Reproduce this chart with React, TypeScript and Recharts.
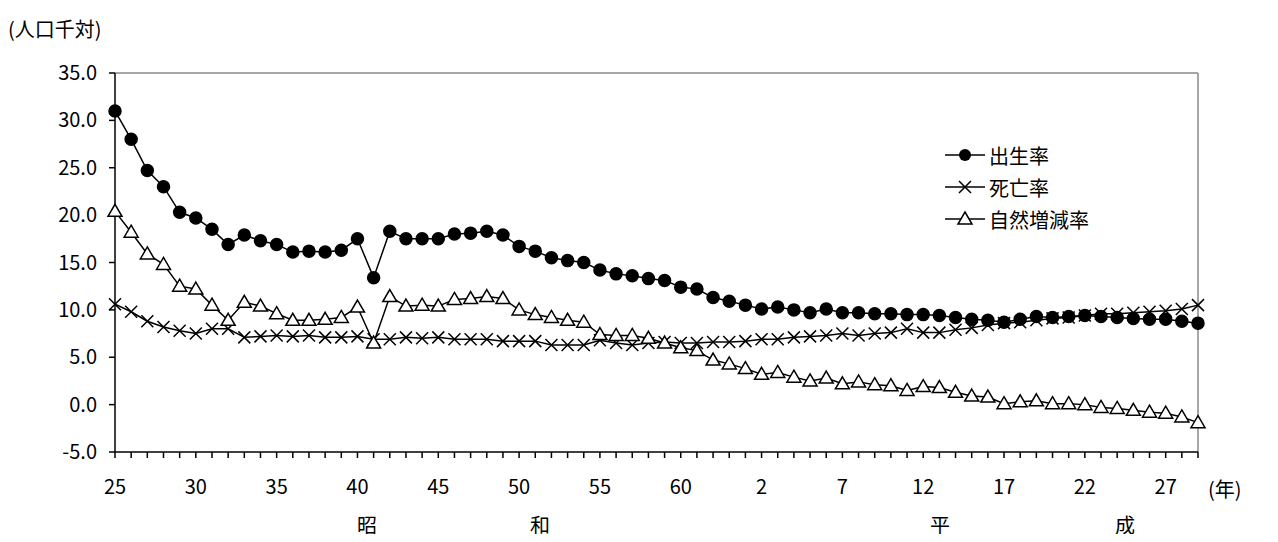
import { LineChart, Line, XAxis, YAxis, ReferenceLine } from "recharts";

const showaYears = Array.from({ length: 39 }, (_, i) => `S${25 + i}`);
const heiseiYears = Array.from({ length: 29 }, (_, i) => `H${1 + i}`);
const years = [...showaYears, ...heiseiYears];

const birthRate = [
  31.0, 28.0, 24.7, 23.0, 20.3, 19.7, 18.5, 16.9, 17.9, 17.3, 16.9, 16.1, 16.2, 16.1, 16.3, 17.5, 13.4, 18.3, 17.5, 17.5,
  17.5, 18.0, 18.1, 18.3, 17.9, 16.7, 16.2, 15.5, 15.2, 15.0, 14.2, 13.8, 13.6, 13.3, 13.1, 12.4, 12.2, 11.3, 10.9,
  10.5, 10.1, 10.3, 10.0, 9.7, 10.1, 9.7, 9.7, 9.6, 9.6, 9.5, 9.5, 9.4, 9.2, 9.0, 8.9, 8.7, 9.0, 9.3, 9.2, 9.3, 9.4,
  9.3, 9.2, 9.1, 9.0, 9.0, 8.8, 8.6,
];
const deathRate = [
  10.6, 9.8, 8.8, 8.2, 7.8, 7.5, 8.0, 8.0, 7.1, 7.2, 7.3, 7.2, 7.3, 7.1, 7.1, 7.2, 6.9, 6.9, 7.1, 7.0, 7.1, 6.9, 6.9,
  6.9, 6.7, 6.7, 6.7, 6.3, 6.3, 6.3, 6.8, 6.5, 6.3, 6.5, 6.6, 6.5, 6.5, 6.6, 6.6, 6.7, 6.9, 6.9, 7.1, 7.2, 7.3, 7.5,
  7.3, 7.5, 7.6, 8.0, 7.6, 7.6, 7.9, 8.1, 8.4, 8.6, 8.7, 8.9, 9.1, 9.2, 9.4, 9.6, 9.6, 9.7, 9.8, 9.9, 10.1, 10.5,
];
const naturalRate = [
  20.4, 18.2, 15.9, 14.8, 12.5, 12.2, 10.5, 8.9, 10.8, 10.4, 9.6, 8.9, 8.9, 9.0, 9.2, 10.3, 6.5, 11.4, 10.4, 10.5,
  10.4, 11.1, 11.2, 11.4, 11.2, 10.0, 9.5, 9.2, 8.9, 8.7, 7.4, 7.3, 7.3, 7.0, 6.5, 6.0, 5.7, 4.7, 4.3, 3.8, 3.2, 3.4,
  2.9, 2.5, 2.8, 2.2, 2.4, 2.1, 2.0, 1.5, 1.9, 1.8, 1.3, 0.9, 0.8, 0.1, 0.3, 0.4, 0.1, 0.1, 0.0, -0.3, -0.4, -0.6,
  -0.8, -0.9, -1.3, -1.9,
];
const yTicks = [-5, 0, 5, 10, 15, 20, 25, 30, 35];

const data = years.map((y, i) => ({ year: y, birth: birthRate[i], death: deathRate[i], natural: naturalRate[i] }));

const font = "'Noto Sans CJK JP', sans-serif";

function xLabel(v: string) {
  const n = Number(v.slice(1));
  if (v[0] === "S") return n % 5 === 0 ? String(n) : "";
  return n % 5 === 2 ? String(n) : "";
}

const Cross = (p: any) => {
  const { cx, cy } = p;
  if (cx == null) return null;
  const s = 6;
  return (
    <path d={`M${cx - s},${cy - s}L${cx + s},${cy + s}M${cx - s},${cy + s}L${cx + s},${cy - s}`} stroke="#000" strokeWidth={1.5} />
  );
};
const Tri = (p: any) => {
  const { cx, cy } = p;
  if (cx == null) return null;
  return <path d={`M${cx},${cy - 7}L${cx + 7},${cy + 5}L${cx - 7},${cy + 5}Z`} fill="#fff" stroke="#000" strokeWidth={1.5} />;
};

function LegendBox() {
  const items = [
    { name: "出生率", m: <circle cx={20} cy={10} r={6} fill="#000" /> },
    { name: "死亡率", m: <path d="M14,4L26,16M14,16L26,4" stroke="#000" strokeWidth={1.5} /> },
    { name: "自然増減率", m: <path d="M20,3L27,15L13,15Z" fill="#fff" stroke="#000" strokeWidth={1.5} /> },
  ];
  return (
    <div style={{ position: "absolute", left: 945, top: 139, fontFamily: font, fontSize: 20 }}>
      {items.map((it) => (
        <div key={it.name} style={{ display: "flex", alignItems: "center", height: 32 }}>
          <svg width={42} height={20}>
            <line x1={0} y1={10} x2={40} y2={10} stroke="#000" strokeWidth={1.5} />
            {it.m}
          </svg>
          <span style={{ marginLeft: 2 }}>{it.name}</span>
        </div>
      ))}
    </div>
  );
}

export default function App() {
  return (
    <div style={{ position: "relative", margin: -8, width: 1278, height: 542, background: "#fff", fontFamily: font }}>
      <div style={{ position: "absolute", left: 8, top: 14, fontSize: 20 }}>(人口千対)</div>
      <LineChart width={1278} height={542} data={data} margin={{ top: 73, right: 80, left: 45, bottom: 60 }}>
        <XAxis
          dataKey="year"
          interval={0}
          tickFormatter={xLabel}
          tick={{ fill: "#000", fontSize: 20, fontFamily: font, dy: 20 }}
          tickSize={6}
          axisLine={{ stroke: "#000", strokeWidth: 1.5 }}
          tickLine={{ stroke: "#000", strokeWidth: 1.5 }}
          height={30}
        />
        <YAxis
          domain={[-5, 35]}
          ticks={yTicks}
          tickFormatter={(v: number) => v.toFixed(1)}
          tick={{ fill: "#000", fontSize: 20, fontFamily: font, dx: -10 }}
          width={70}
          axisLine={{ stroke: "#000", strokeWidth: 1.5 }}
          tickLine={{ stroke: "#000", strokeWidth: 1.5 }}
        />
        <ReferenceLine y={35} stroke="#888" strokeWidth={1.5} />
        <ReferenceLine x={years[years.length - 1]} stroke="#888" strokeWidth={1.5} />
        <Line dataKey="birth" stroke="#000" strokeWidth={1.5} isAnimationActive={false}
          dot={{ r: 6, fill: "#000", stroke: "#000" }} />
        <Line dataKey="death" stroke="#000" strokeWidth={1.5} isAnimationActive={false} dot={<Cross />} />
        <Line dataKey="natural" stroke="#000" strokeWidth={1.5} isAnimationActive={false} dot={<Tri />} />
      </LineChart>
      <LegendBox />
      <div style={{ position: "absolute", left: 1208, top: 474, fontSize: 20 }}>(年)</div>
      {[["昭", 357], ["和", 530], ["平", 930], ["成", 1115]].map(([t, x]) => (
        <div key={t as string} style={{ position: "absolute", left: x as number, top: 510, fontSize: 20 }}>{t}</div>
      ))}
    </div>
  );
}
